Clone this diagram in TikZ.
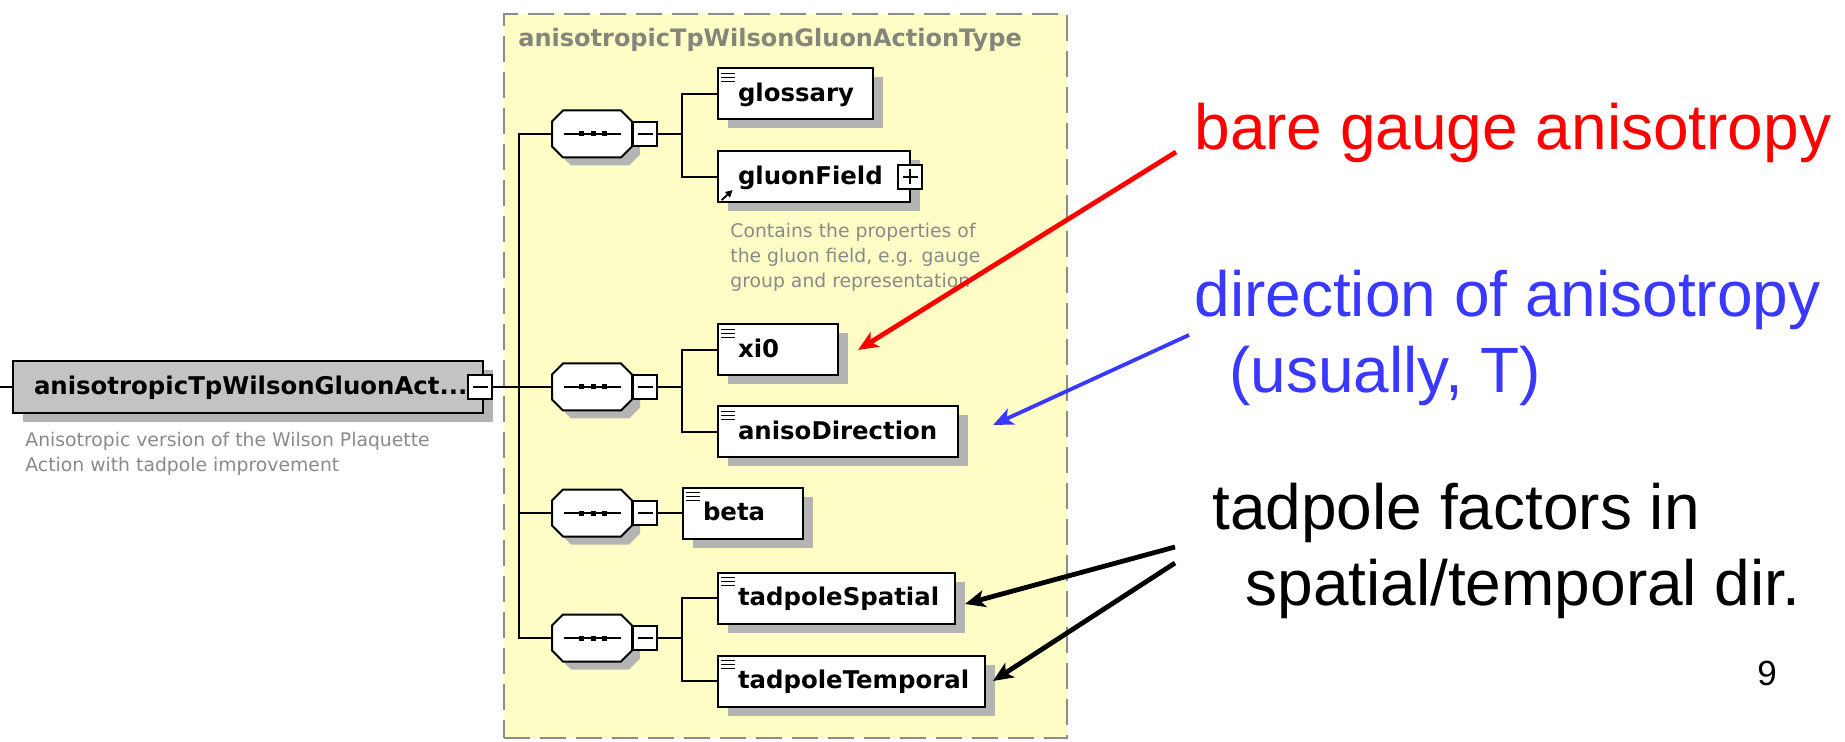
\documentclass[tikz,border=0pt]{standalone}
\usepackage{fontspec}
\setmainfont{Liberation Sans}
\newfontfamily\dv{DejaVu Sans}
\usetikzlibrary{arrows.meta,shadows,calc}
\definecolor{ylw}{HTML}{FFFDC6}
\definecolor{ybord}{HTML}{8C8C8C}
\definecolor{ttl}{HTML}{85857A}
\definecolor{dsc}{HTML}{8A8A8A}
\definecolor{shd}{HTML}{B4B4B4}
\definecolor{mgray}{HTML}{C3C3C3}
\definecolor{annred}{HTML}{FF0000}
\definecolor{annblue}{HTML}{3838FF}
\newcommand{\lb}[2]{\makebox[#1][l]{#2}}
\begin{document}
\begin{tikzpicture}[x=0.5pt,y=-0.5pt,
  conn/.style={draw=black, line width=1pt},
  elemfont/.style={font={\dv\bfseries\fontsize{12.2pt}{14pt}\selectfont}},
  shadowed/.style={drop shadow={shadow xshift=5pt, shadow yshift=-4.5pt, fill=shd, opacity=1}},
  elem/.style={draw=black, line width=1pt, fill=white, anchor=west, minimum height=25.5pt,
    inner xsep=10pt, inner ysep=0pt, text height=9.5pt, text depth=2pt, elemfont, shadowed},
  eqicon/.style={path picture={\foreach \yy in {2.5pt,4.5pt,6.5pt}
      \draw[line width=0.8pt] ([xshift=1.5pt,yshift=-\yy]path picture bounding box.north west) -- ++(7pt,0pt);}},
  reficon/.style={path picture={\draw[line width=0.9pt, -{Triangle[length=3.5pt,width=3.5pt]}]
      ([xshift=1.8pt,yshift=1.2pt]path picture bounding box.south west) -- ++(5.5pt,5pt);}},
  minusbox/.style={draw=black, line width=1pt, fill=white, minimum size=12pt, inner sep=0pt,
    path picture={\draw[line width=0.8pt] ([xshift=-3.75pt]path picture bounding box.center) -- ++(7.5pt,0pt);}},
  plusbox/.style={draw=black, line width=1pt, fill=white, minimum size=12pt, inner sep=0pt,
    path picture={\draw[line width=0.8pt] ([xshift=-3.75pt]path picture bounding box.center) -- ++(7.5pt,0pt);
      \draw[line width=0.8pt] ([yshift=-3.75pt]path picture bounding box.center) -- ++(0pt,7.5pt);}},
  seqhit/.style={draw=none, minimum width=40pt, minimum height=23.5pt, inner sep=0pt},
  desc/.style={anchor=base west, inner sep=0pt, text=dsc, font={\dv\fontsize{9.4pt}{11pt}\selectfont}},
  big/.style={anchor=base west, inner sep=0pt, font={\fontsize{32pt}{38pt}\selectfont}},
  arr/.style={line width=2.4pt, -{Stealth[length=10pt,width=8.5pt,inset=2.5pt]}},
  seq/.pic={
    \fill[shd, shift={(8,8)}] (-40,-12.5) -- (-29,-23.5) -- (29,-23.5) -- (40,-12.5) -- (40,12.5) -- (29,23.5) -- (-29,23.5) -- (-40,12.5) -- cycle;
    \filldraw[fill=white, draw=black, line width=1pt] (-40,-12.5) -- (-29,-23.5) -- (29,-23.5) -- (40,-12.5) -- (40,12.5) -- (29,23.5) -- (-29,23.5) -- (-40,12.5) -- cycle;
    \draw[line width=0.8pt] (-28,0) -- (29,0);
    \fill (-13.5,-2.5) rectangle ++(5,5);
    \fill (-1.5,-2.5) rectangle ++(5,5);
    \fill (9.5,-2.5) rectangle ++(5,5);
    \node[seqhit] (-o) at (0,0) {};
    \node[minusbox] (-m) at (53,0) {};
  }
]
\useasboundingbox (0,0) rectangle (1845,742);

% type container
\node[draw=ybord, fill=ylw, line width=1pt, dash pattern=on 13pt off 5pt, anchor=north west,
  minimum width=281.5pt, minimum height=362pt, inner sep=0pt] (typebox) at (503,13) {};
\node[anchor=base west, inner sep=0pt, text=ttl, font={\dv\bfseries\fontsize{12pt}{14pt}\selectfont}] (title) at (518,47) {anisotropicTpWilsonGluonActionType};

% main element
\node[draw=black, line width=1pt, fill=mgray, anchor=west, minimum height=26pt, inner xsep=10.5pt, inner ysep=0pt,
  text height=9.5pt, text depth=2pt, elemfont, shadowed] (main) at (12,387) {\lb{214pt}{anisotropicTpWilsonGluonAct...}};
\node[minusbox] (mainm) at (480,387) {};
\coordinate (stub) at (0,387);
\draw[conn] (stub) -- (main.west);
\node[desc] (d1a) at (25,447) {Anisotropic version of the Wilson Plaquette};
\node[desc] (d1b) at (25,472) {Action with tadpole improvement};

% sequences
\pic (s1) at (592,134) {seq};
\pic (s2) at (592,387) {seq};
\pic (s3) at (592,513) {seq};
\pic (s4) at (592,638) {seq};

\coordinate (trtop) at (519,134);
\coordinate (trbot) at (519,638);
\draw[conn] (s1-o.west) -- (trtop) -- (trbot) -- (s4-o.west);
\draw[conn] (mainm.east) -- (s2-o.west);
\draw[conn] (s3-o.west) -- (s3-o.west -| trtop);

% elements
\node[elem, eqicon] (glossary) at (717,94) {\lb{57.5pt}{glossary}};
\node[elem, reficon] (gluon) at (717,177) {\lb{76pt}{gluonField}};
\node[plusbox] (gluonp) at (910,177) {};
\node[desc] (d2a) at (730,238) {Contains the properties of};
\node[desc] (d2b) at (730,263) {the gluon field, e.g. gauge};
\node[desc] (d2c) at (730,288) {group and representation};
\node[elem, eqicon] (xi0) at (717,350) {\lb{40pt}{xi0}};
\node[elem, eqicon] (aniso) at (717,432) {\lb{100pt}{anisoDirection}};
\node[elem, eqicon] (beta) at (682,513) {\lb{40pt}{beta}};
\node[elem, eqicon] (tsp) at (717,598) {\lb{98.5pt}{tadpoleSpatial}};
\node[elem, eqicon] (ttm) at (717,681) {\lb{113.5pt}{tadpoleTemporal}};

\coordinate (br1) at (682,134);
\coordinate (br2) at (682,387);
\coordinate (br4) at (682,638);
\draw[conn] (s1-m.east) -- (br1);
\draw[conn] (glossary.west) -| (br1) |- (gluon.west);
\draw[conn] (s2-m.east) -- (br2);
\draw[conn] (xi0.west) -| (br2) |- (aniso.west);
\draw[conn] (s3-m.east) -- (beta.west);
\draw[conn] (s4-m.east) -- (br4);
\draw[conn] (tsp.west) -| (br4) |- (ttm.west);

% annotations
\node[big, text=annred] (bga) at (1194,150) {bare gauge anisotropy};
\node[big, text=annblue] (doa) at (1194,317) {direction of anisotropy};
\node[big, text=annblue] (usu) at (1229,393) {(usually, T)};
\node[big] (tfi) at (1212,529) {tadpole factors in};
\node[big] (std) at (1245,605) {spatial/temporal dir.};
\node[anchor=base west, inner sep=0pt, font={\fontsize{17.5pt}{20pt}\selectfont}] (pg) at (1757,685) {9};

\coordinate (rs) at (1176,152);
\coordinate (rt) at (858,350);
\coordinate (bs) at (1189,335);
\coordinate (bt) at (993,425);
\coordinate (ks1) at (1175,547);
\coordinate (kt1) at (965,604);
\coordinate (ks2) at (1175,563);
\coordinate (kt2) at (993,681);
\draw[arr, annred] (rs) -- (rt);
\draw[arr, annblue, line width=1.9pt] (bs) -- (bt);
\draw[arr, black] (ks1) -- (kt1);
\draw[arr, black] (ks2) -- (kt2);
\end{tikzpicture}
\end{document}
